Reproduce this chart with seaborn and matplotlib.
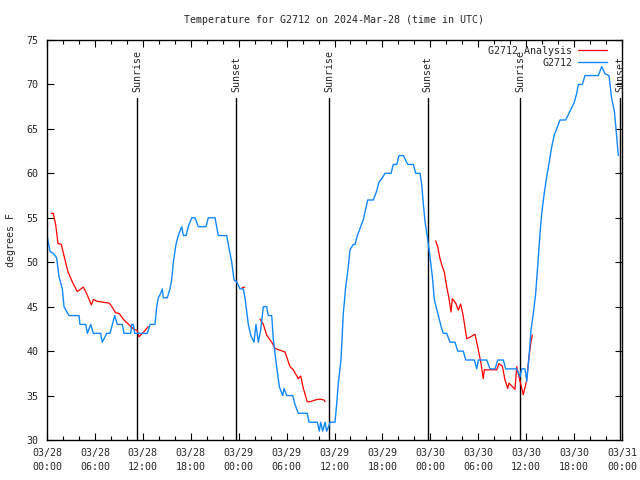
import numpy as np
import pandas as pd
import matplotlib
matplotlib.use("Agg")
import matplotlib.pyplot as plt
from matplotlib.ticker import MultipleLocator
import seaborn as sns

# ---- data (hours since 2024-03-28 00:00 UTC, degrees F) ----
obs_hours = [0.0,0.38,0.79,1.21,1.50,1.92,2.13,2.75,4.01,4.13,4.85,5.05,5.47,5.80,6.72,6.92,7.48,7.89,8.48,8.80,
             9.43,9.64,10.48,10.61,10.81,10.98,12.15,12.56,12.90,13.52,13.74,13.94,14.24,14.44,14.56,15.06,15.40,
             15.61,15.82,16.15,16.44,16.87,17.07,17.41,17.69,18.12,18.53,18.95,19.91,20.20,21.04,21.45,22.50,22.83,
             23.13,23.42,23.75,24.17,24.58,24.79,25.21,25.51,25.92,26.17,26.46,26.76,27.09,27.51,27.71,28.14,28.34,
             28.76,29.09,29.51,29.68,30.02,30.77,31.05,31.47,32.59,32.81,33.85,34.10,34.27,34.52,34.81,35.02,35.35,
             35.44,36.06,36.28,36.48,36.81,37.10,37.40,37.73,37.94,38.35,38.57,38.86,39.19,39.61,39.91,40.16,40.86,
             41.28,41.57,41.99,42.32,43.08,43.36,43.79,44.08,44.62,45.17,45.87,46.17,46.71,46.92,47.12,47.33,47.62,
             47.96,48.25,48.50,49.00,49.34,49.62,50.05,50.46,51.09,51.43,52.13,52.43,53.51,53.81,54.01,55.06,55.47,
             56.10,56.44,57.14,57.44,58.82,59.23,59.44,59.86,60.07,60.36,60.61,60.89,61.19,61.44,61.73,61.95,62.27,
             62.57,62.86,63.20,63.52,63.82,64.24,64.95,65.49,66.03,66.33,66.53,67.03,67.37,69.03,69.46,69.87,70.37,
             70.71,71.04,71.25,71.54]
obs_temp = [53.0,51.2,51.0,50.5,48.4,47.0,45.0,44.0,44.0,43.0,43.0,42.0,43.0,42.0,42.0,41.0,42.0,42.0,44.0,43.0,
            43.0,42.0,42.0,43.0,43.0,42.0,42.0,42.0,43.0,43.0,45.0,46.0,46.5,47.0,46.0,46.0,47.0,
            48.0,50.0,52.0,53.0,54.0,53.0,53.0,54.0,55.0,55.0,54.0,54.0,55.0,55.0,53.0,53.0,51.4,
            50.0,48.0,47.8,47.0,47.0,46.0,43.0,41.8,41.0,43.0,41.0,42.4,45.0,45.0,44.0,44.0,41.3,
            38.2,36.0,35.0,35.8,35.0,35.0,34.0,33.0,33.0,32.0,32.0,31.0,32.0,31.0,32.0,31.0,31.7,
            32.0,32.0,34.1,36.4,39.0,44.2,47.2,49.5,51.4,52.0,52.0,53.0,53.8,54.8,56.0,57.0,57.0,
            58.0,59.0,59.5,60.0,60.0,61.0,61.0,62.0,62.0,61.0,61.0,60.0,60.0,58.7,56.6,54.6,52.9,
            50.6,48.4,45.8,44.0,42.8,42.0,42.0,41.0,41.0,40.0,40.0,39.0,39.0,38.0,39.0,39.0,38.0,
            38.0,39.0,39.0,38.0,38.0,37.1,38.0,38.0,36.6,39.4,42.4,44.2,46.5,49.5,53.2,55.5,57.8,
            59.6,61.1,63.0,64.3,65.0,66.0,66.0,67.0,68.0,69.0,70.0,70.0,71.0,71.0,72.0,71.2,71.0,
            68.4,67.0,65.0,62.0]

ana_seg1_hours = [0.54,0.79,1.09,1.38,1.79,2.22,2.63,3.17,3.79,4.55,5.05,5.55,5.80,6.30,7.76,7.98,8.60,9.02,9.64,
                  10.89,11.31,11.52,12.15,12.68]
ana_seg1_temp = [55.5,55.5,54.2,52.1,52.0,50.4,48.9,47.8,46.7,47.2,46.3,45.2,45.8,45.6,45.4,45.2,44.3,44.25,43.5,
                 42.45,42.3,41.6,42.2,42.75]
ana_seg2_hours = [24.40,24.75]
ana_seg2_temp = [47.1,47.2]
ana_seg3_hours = [26.67,27.09,27.51,28.14,28.55,29.80,30.43,30.84,31.47,31.77,32.10,32.59,32.93,33.56,34.18,34.69,34.81]
ana_seg3_temp = [43.6,43.0,41.8,41.0,40.3,39.9,38.25,37.9,36.9,37.2,35.8,34.3,34.3,34.5,34.6,34.5,34.3]
ana_seg4_hours = [48.67,48.92,49.21,49.50,49.75,50.05,50.34,50.59,50.75,51.18,51.50,51.80,52.13,52.55,52.84,53.59,
                  53.93,54.35,54.63,54.76,55.89,56.31,56.60,57.02,57.35,57.69,57.85,58.60,58.82,59.10,59.35,59.64,
                  60.07,60.36,60.61,60.77]
ana_seg4_temp = [52.4,51.75,50.4,49.5,48.9,47.25,45.9,44.4,45.9,45.4,44.6,45.3,43.9,41.4,41.5,41.9,
                 40.5,38.6,36.9,37.9,37.9,37.9,38.6,38.3,36.75,35.8,36.4,35.7,38.25,37.1,36.2,35.1,
                 36.75,39.4,41.1,41.8]

sun_events = ["Sunrise", "Sunset", "Sunrise", "Sunset", "Sunrise", "Sunset"]
sun_hours = [11.3, 23.7, 35.35, 47.65, 59.27, 71.8]

tick_hours = list(range(0, 73, 6))
tick_labels = ["03/28\n00:00", "03/28\n06:00", "03/28\n12:00", "03/28\n18:00",
               "03/29\n00:00", "03/29\n06:00", "03/29\n12:00", "03/29\n18:00",
               "03/30\n00:00", "03/30\n06:00", "03/30\n12:00", "03/30\n18:00",
               "03/31\n00:00"]

# ---- build frames ----
obs_df = pd.DataFrame({"hour": obs_hours, "temp": obs_temp})
ana_parts = []
for i, (h, t) in enumerate([(ana_seg1_hours, ana_seg1_temp), (ana_seg2_hours, ana_seg2_temp),
                            (ana_seg3_hours, ana_seg3_temp), (ana_seg4_hours, ana_seg4_temp)]):
    ana_parts.append(pd.DataFrame({"hour": h, "temp": t, "seg": i}))
ana_df = pd.concat(ana_parts, ignore_index=True)

sns.set_style("ticks")
plt.rcParams["font.family"] = ["DejaVu Sans Mono", "DejaVu Sans"]
FS = 7.2

fig = plt.figure(figsize=(6.4, 4.8), dpi=100)
ax = fig.add_axes([47/640, 40/480, 575/640, 400/480])

RED = "#ff0000"
BLUE = "#1188ff"

for h, ev in zip(sun_hours, sun_events):
    ax.plot([h, h], [30, 68.5], color="black", lw=1.0, zorder=1)
    ax.text(h, 69.1, ev, rotation=90, ha="center", va="bottom", fontsize=FS, zorder=3)

sns.lineplot(data=ana_df, x="hour", y="temp", units="seg", estimator=None, color=RED,
             lw=0.9, ax=ax, zorder=2, sort=False, legend=False)
sns.lineplot(data=obs_df, x="hour", y="temp", estimator=None, color=BLUE,
             lw=1.0, ax=ax, zorder=2, sort=False, legend=False)

ax.set_xlim(0, 72)
ax.set_ylim(30, 75)
ax.set_xticks(tick_hours)
ax.set_xticklabels(tick_labels, fontsize=FS, linespacing=1.5)
ax.xaxis.set_minor_locator(MultipleLocator(2))
ax.set_yticks(range(30, 76, 5))
ax.tick_params(axis="y", labelsize=FS)
ax.tick_params(which="major", direction="in", top=True, right=True, length=5, width=0.8, pad=6, color="black")
ax.tick_params(which="minor", direction="in", top=True, right=True, length=3, width=0.8, color="black")
for sp in ax.spines.values():
    sp.set_linewidth(1.0)
    sp.set_color("black")

ax.set_xlabel("")
ax.set_ylabel("degrees F", fontsize=FS, labelpad=8)
ax.set_title("Temperature for G2712 on 2024-Mar-28 (time in UTC)", fontsize=FS, pad=12)

h_ana = plt.Line2D([], [], color=RED, lw=0.9)
h_obs = plt.Line2D([], [], color=BLUE, lw=1.0)
ax.legend([h_ana, h_obs], ["G2712 Analysis", "G2712"], loc="upper right", frameon=False,
          markerfirst=False, fontsize=FS, handlelength=2.9, handletextpad=0.6,
          labelspacing=0.2, borderaxespad=0.2, bbox_to_anchor=(0.985, 1.0))

fig.savefig("out.png", dpi=100)
